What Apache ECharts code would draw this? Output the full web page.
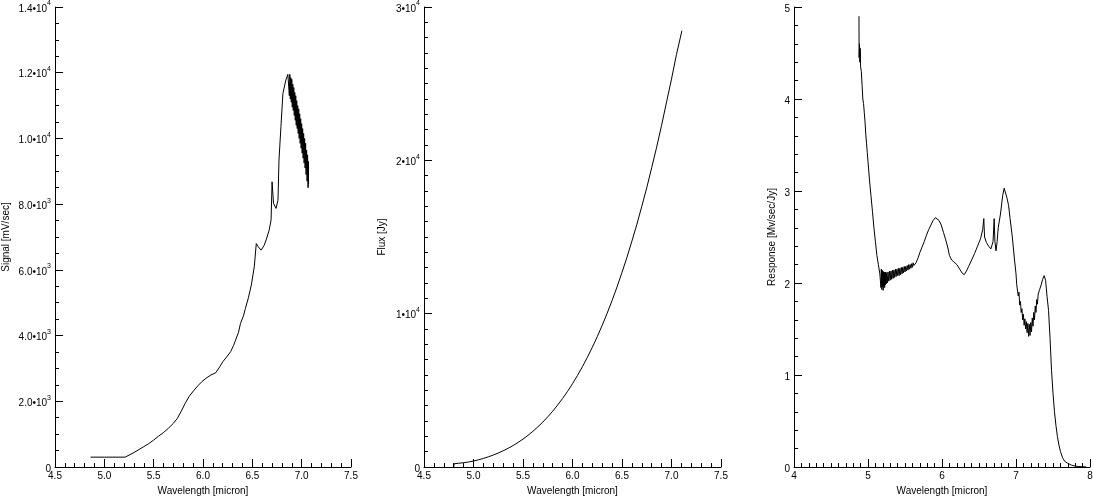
<!DOCTYPE html>
<html><head><meta charset="utf-8">
<script src="https://cdn.jsdelivr.net/npm/echarts@6/dist/echarts.min.js"></script>
<style>html,body{margin:0;padding:0;background:#fff}#c{width:1094px;height:496px}</style>
</head><body><div id="c"></div>
<script>
// ---- Panel 1: Signal [mV/sec] ----
const signalWave = [4.86,5.00,5.21,5.25,5.30,5.35,5.40,5.45,5.50,5.55,5.60,5.65,5.70,5.74,5.78,5.82,5.86,5.91,5.95,5.99,6.03,6.08,6.13,6.17,6.20,6.24,6.28,6.31,6.33,6.36,6.38,6.41,6.43,6.46,6.49,6.52,6.54,6.56,6.59,6.62,6.64,6.67,6.69,6.70,6.715,6.74,6.76,6.77,6.79,6.81,6.84,6.86,
 6.870,6.875,6.880,6.885,6.890,6.895,6.900,6.905,6.910,6.915,6.920,6.925,6.930,6.935,6.940,6.945,6.950,6.955,6.960,6.965,6.970,6.975,6.980,6.985,6.990,6.995,7.000,7.005,7.010,7.015,7.020,7.025,7.030,7.035,7.040,7.045,7.050,7.055,7.060,7.065,7.068,7.070];
const signalValue = [300,300,300,360,440,530,620,710,820,940,1050,1180,1330,1480,1700,1940,2150,2340,2480,2600,2700,2800,2870,3050,3200,3350,3510,3700,3860,4100,4370,4600,4830,5150,5540,6100,6800,6700,6600,6750,6910,7200,7520,8680,8020,7870,8120,9340,10360,11370,11780,11950,
 12000,11300,11950,11200,11850,11100,11800,10950,11650,10850,11550,10700,11400,10550,11300,10400,11150,10300,11000,10150,10900,10000,10750,9850,10600,9700,10450,9550,10300,9400,10150,9250,10000,9100,9850,8900,9650,8700,9500,8500,9300,8600];
const signalTicks = [0,2000,4000,6000,8000,10000,12000,14000];

// ---- Panel 2: Flux [Jy] ----
const fluxWave  = [4.80,4.805,4.85,4.90,4.95,5.00,5.05,5.10,5.15,5.20,5.25,5.30,5.35,5.40,5.45,5.50,5.55,5.60,5.65,5.70,5.75,5.80,5.85,5.90,5.95,6.00,6.05,6.10,6.15,6.20,6.25,6.30,6.35,6.40,6.45,6.50,6.55,6.60,6.65,6.70,6.75,6.80,6.85,6.90,6.95,7.00,7.05,7.105];
const fluxValue = [0,210,245,280,325,390,469,560,663,780,911,1057,1220,1401,1601,1820,2062,2327,2616,2929,3271,3640,4040,4470,4933,5430,5967,6537,7151,7804,8499,9240,10027,10860,11747,12690,13674,14730,15822,17000,18215,19520,20860,22290,23800,25300,26900,28450];
const fluxTicks = [0,10000,20000,30000];

// ---- Panel 3: Response [Mv/sec/Jy] ----
const respWave = [4.878,4.880,4.885,4.890,4.895,4.900,4.910,4.920,4.930,4.940,4.950,4.960,4.970,4.980,4.990,5.000,5.020,5.040,5.060,5.080,5.100,5.120,5.140,5.160,
 5.170,5.175,5.180,5.185,5.190,5.195,5.200,5.205,5.210,5.215,5.220,5.225,5.230,5.235,5.240,5.245,
 5.250,5.260,5.270,5.280,5.290,5.300,5.310,5.320,5.330,5.340,5.350,5.360,5.370,5.380,5.390,5.400,5.410,5.420,5.430,5.440,5.450,5.460,5.470,5.480,5.490,5.500,5.510,5.520,5.530,5.540,5.550,5.560,5.570,5.580,5.590,5.600,5.610,5.620,
 5.650,5.680,5.700,5.730,5.760,5.790,5.820,5.850,5.880,5.910,5.930,5.960,5.990,6.020,6.050,6.080,6.100,6.130,6.160,6.200,6.240,6.270,6.300,6.330,6.360,6.400,6.440,6.480,6.520,6.550,6.565,6.575,6.600,6.630,6.660,6.690,6.705,6.715,6.730,6.745,6.760,6.790,6.820,6.840,6.860,6.880,6.900,6.920,6.950,6.980,
 7.000,7.010,7.020,7.030,7.040,7.050,7.060,7.070,7.080,7.090,7.100,7.110,7.120,7.130,7.140,7.150,7.160,7.170,7.180,7.190,7.200,7.210,7.220,7.230,7.240,7.250,7.260,7.270,7.280,7.290,7.300,7.320,7.340,7.360,7.380,7.400,7.420,
 7.440,7.460,7.480,7.500,7.520,7.540,7.560,7.580,7.600,7.630,7.660,7.700,7.750,7.800,7.850,7.950];
const respValue = [4.90,4.45,4.60,4.40,4.55,4.35,4.30,4.15,4.00,3.95,3.85,3.75,3.62,3.52,3.42,3.32,3.12,2.95,2.78,2.60,2.45,2.30,2.20,2.10,
 2.10,1.95,2.15,1.93,2.14,1.96,2.13,1.92,2.12,1.97,2.12,1.95,2.11,1.98,2.12,1.99,
 2.11,2.00,2.12,2.02,2.13,2.03,2.13,2.04,2.14,2.05,2.14,2.06,2.15,2.07,2.15,2.08,2.16,2.08,2.16,2.09,2.17,2.10,2.17,2.11,2.18,2.12,2.18,2.13,2.19,2.14,2.20,2.15,2.20,2.16,2.21,2.17,2.22,2.19,
 2.22,2.28,2.33,2.39,2.45,2.52,2.58,2.63,2.68,2.71,2.72,2.68,2.63,2.55,2.47,2.38,2.30,2.25,2.23,2.20,2.15,2.11,2.09,2.13,2.18,2.25,2.32,2.40,2.48,2.58,2.70,2.50,2.44,2.40,2.37,2.45,2.70,2.45,2.35,2.45,2.60,2.75,2.95,3.03,3.02,2.92,2.84,2.70,2.50,2.25,
 2.10,1.98,2.00,1.86,1.90,1.76,1.80,1.68,1.72,1.60,1.66,1.54,1.61,1.50,1.58,1.46,1.56,1.42,1.55,1.43,1.57,1.47,1.62,1.53,1.68,1.60,1.75,1.68,1.82,1.77,1.88,1.93,1.98,2.04,2.08,2.03,1.85,
 1.70,1.40,1.05,0.80,0.60,0.45,0.33,0.24,0.17,0.10,0.06,0.04,0.02,0.01,0.005,0.0];
const respTicks = [0,1,2,3,4,5];

const FONT = '"Liberation Sans", Arial, sans-serif';
const pairs = (xs, ys) => xs.map((x, i) => [x, ys[i]]);

function sup(mant, exp) { return '{b|' + mant + '•10}{s|' + exp + '}'; }
const rich = {
  b: { fontSize: 10, fontFamily: FONT, color: '#000', lineHeight: 14, verticalAlign: 'bottom' },
  s: { fontSize: 7, fontFamily: FONT, color: '#000', lineHeight: 14, verticalAlign: 'top' }
};

function xAxis(gi, min, max, interval, minorSplit, decimals) {
  return {
    type: 'value', gridIndex: gi, min, max, interval,
    name: 'Wavelength [micron]', nameLocation: 'middle', nameGap: 17,
    nameTextStyle: { fontFamily: FONT, fontSize: 10, color: '#000' },
    axisLine: { show: true, lineStyle: { color: '#000', width: 1 } },
    axisTick: { show: true, inside: true, length: 8, lineStyle: { color: '#000' } },
    minorTick: { show: true, splitNumber: minorSplit, length: 4, lineStyle: { color: '#000' } },
    splitLine: { show: false }, minorSplitLine: { show: false },
    axisLabel: { fontFamily: FONT, fontSize: 10, color: '#000', margin: 4,
      formatter: v => v.toFixed(decimals) }
  };
}
function yAxis(gi, max, interval, minorSplit, name, gap, fmt) {
  return {
    type: 'value', gridIndex: gi, min: 0, max, interval,
    name, nameLocation: 'middle', nameGap: gap, nameRotate: 90,
    nameTextStyle: { fontFamily: FONT, fontSize: 10, color: '#000' },
    axisLine: { show: true, lineStyle: { color: '#000', width: 1 } },
    axisTick: { show: true, inside: true, length: 8, lineStyle: { color: '#000' } },
    minorTick: { show: true, splitNumber: minorSplit, length: 4, lineStyle: { color: '#000' } },
    splitLine: { show: false }, minorSplitLine: { show: false },
    axisLabel: { fontFamily: FONT, fontSize: 10, color: '#000', margin: 4, formatter: fmt, rich }
  };
}

const signalFmt = v => {
  if (v === 0) return '{b|0}';
  const e = Math.floor(Math.log10(v) + 1e-9);
  return sup((v / Math.pow(10, e)).toFixed(1), e);
};
const fluxFmt = v => v === 0 ? '{b|0}' : sup(String(Math.round(v / 10000)), 4);
const respFmt = v => '{b|' + v + '}';

const line = (xi, yi, data) => ({
  type: 'line', xAxisIndex: xi, yAxisIndex: yi, data, showSymbol: false, symbol: 'none',
  lineStyle: { color: '#000', width: 1 }, animation: false, silent: true
});

const chart = echarts.init(document.getElementById('c'), null, { renderer: 'canvas' });
chart.setOption({
  backgroundColor: '#fff',
  animation: false,
  grid: [
    { left: 55, top: 7, width: 296, height: 460, outerBoundsMode: 'none', containLabel: false },
    { left: 424, top: 7, width: 297, height: 460, outerBoundsMode: 'none', containLabel: false },
    { left: 794, top: 7, width: 296, height: 460, outerBoundsMode: 'none', containLabel: false }
  ],
  xAxis: [
    xAxis(0, 4.5, 7.5, 0.5, 5, 1),
    xAxis(1, 4.5, 7.5, 0.5, 5, 1),
    xAxis(2, 4, 8, 1, 10, 0)
  ],
  yAxis: [
    yAxis(0, signalTicks[signalTicks.length - 1], signalTicks[1] - signalTicks[0], 4, 'Signal [mV/sec]', 44, signalFmt),
    yAxis(1, fluxTicks[fluxTicks.length - 1], fluxTicks[1] - fluxTicks[0], 10, 'Flux [Jy]', 37, fluxFmt),
    yAxis(2, respTicks[respTicks.length - 1], respTicks[1] - respTicks[0], 5, 'Response [Mv/sec/Jy]', 17, respFmt)
  ],
  series: [
    line(0, 0, pairs(signalWave, signalValue)),
    line(1, 1, pairs(fluxWave, fluxValue)),
    line(2, 2, pairs(respWave, respValue))
  ]
});
</script></body></html>
